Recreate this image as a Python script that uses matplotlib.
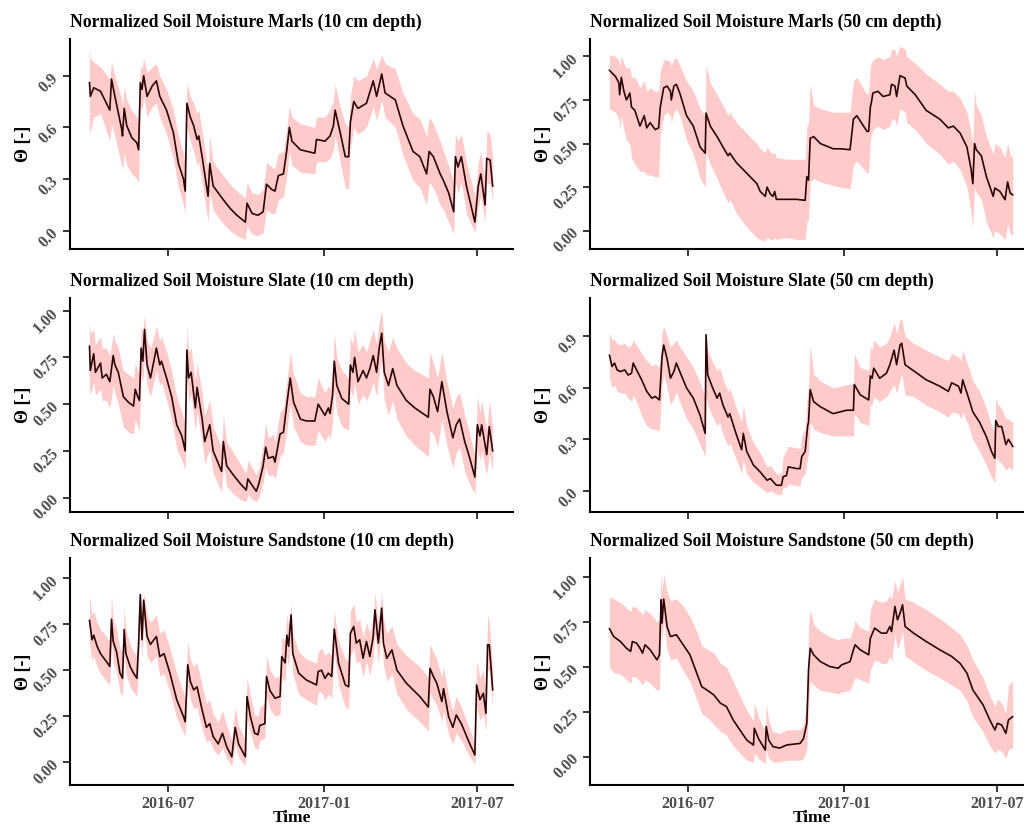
import numpy as np
import pandas as pd
import matplotlib
matplotlib.use("Agg")
import matplotlib.pyplot as plt
import matplotlib.dates as mdates
from datetime import datetime

plt.rcParams["font.family"] = ["Liberation Serif", "DejaVu Serif"]
plt.rcParams["font.weight"] = "bold"
plt.rcParams["axes.labelweight"] = "bold"
plt.rcParams["axes.titleweight"] = "bold"

# record starts 2016-03-30, values are daily means over the sensors with min/max band
START = pd.Timestamp("2016-03-30")

marls10_day = [0, 1, 5, 13, 24, 26, 30, 38, 39, 41, 44, 50, 56, 58, 60, 62, 64, 68, 74, 79,
               83, 91, 99, 105, 111, 113, 115, 119, 123, 127, 129, 133, 136, 140, 142, 146, 152, 158, 166, 174,
               184, 186, 192, 199, 205, 209, 215, 219, 223, 229, 233, 236, 239, 249, 266, 268, 278, 284, 288, 290,
               296, 302, 306, 308, 312, 317, 327, 335, 339, 345, 349, 361, 370, 382, 390, 398, 401, 406, 414, 418,
               424, 430, 432, 435, 439, 445, 455, 459, 462, 467, 469, 473, 476]
marls10_theta = [0.86, 0.78, 0.83, 0.81, 0.70, 0.88, 0.78, 0.59, 0.55, 0.71,
                 0.61, 0.54, 0.51, 0.47, 0.86, 0.82, 0.90, 0.78, 0.84, 0.87,
                 0.78, 0.70, 0.57, 0.39, 0.30, 0.23, 0.74, 0.66, 0.61, 0.53,
                 0.55, 0.43, 0.33, 0.20, 0.39, 0.26, 0.22, 0.18, 0.13, 0.09,
                 0.05, 0.16, 0.10, 0.09, 0.11, 0.27, 0.24, 0.23, 0.32, 0.33,
                 0.47, 0.60, 0.52, 0.47, 0.45, 0.53, 0.52, 0.55, 0.61, 0.70,
                 0.57, 0.43, 0.43, 0.63, 0.75, 0.71, 0.74, 0.87, 0.78, 0.91,
                 0.80, 0.76, 0.61, 0.46, 0.43, 0.33, 0.46, 0.43, 0.33, 0.29,
                 0.22, 0.11, 0.43, 0.37, 0.43, 0.26, 0.05, 0.26, 0.33, 0.15,
                 0.42, 0.41, 0.26]
marls10_lo = [0.57, 0.58, 0.66, 0.68, 0.52, 0.62, 0.55, 0.38, 0.35, 0.45,
              0.38, 0.33, 0.30, 0.28, 0.72, 0.70, 0.78, 0.66, 0.72, 0.74,
              0.66, 0.56, 0.42, 0.25, 0.15, 0.10, 0.60, 0.52, 0.46, 0.38,
              0.40, 0.28, 0.18, 0.05, 0.22, 0.12, 0.08, 0.04, 0.00, -0.03,
              -0.05, 0.03, -0.02, -0.03, -0.01, 0.12, 0.10, 0.10, 0.18, 0.20,
              0.32, 0.46, 0.38, 0.34, 0.33, 0.40, 0.40, 0.42, 0.47, 0.55,
              0.40, 0.25, 0.24, 0.48, 0.60, 0.56, 0.60, 0.72, 0.64, 0.76,
              0.66, 0.60, 0.44, 0.29, 0.25, 0.15, 0.28, 0.25, 0.15, 0.12,
              0.05, -0.02, 0.28, 0.22, 0.28, 0.10, -0.01, 0.14, 0.20, 0.05,
              0.28, 0.27, 0.17]
marls10_hi = [1.06, 1.00, 0.98, 0.95, 0.88, 0.98, 0.90, 0.76, 0.72, 0.84,
              0.76, 0.70, 0.66, 0.62, 0.96, 0.94, 1.00, 0.92, 0.95, 0.97,
              0.90, 0.82, 0.70, 0.55, 0.45, 0.38, 0.86, 0.78, 0.74, 0.68,
              0.70, 0.58, 0.48, 0.35, 0.55, 0.40, 0.36, 0.32, 0.27, 0.23,
              0.19, 0.28, 0.22, 0.21, 0.24, 0.40, 0.37, 0.36, 0.45, 0.46,
              0.60, 0.72, 0.66, 0.62, 0.60, 0.66, 0.66, 0.70, 0.76, 0.85,
              0.72, 0.62, 0.60, 0.78, 0.90, 0.87, 0.90, 1.00, 0.94, 1.02,
              0.97, 0.94, 0.80, 0.68, 0.65, 0.55, 0.66, 0.62, 0.52, 0.46,
              0.38, 0.28, 0.56, 0.52, 0.56, 0.40, 0.20, 0.40, 0.46, 0.28,
              0.58, 0.56, 0.42]

slate10_day = [0, 1, 5, 7, 13, 15, 20, 24, 28, 30, 34, 40, 46, 52, 54, 57, 59, 61, 63, 65,
               68, 72, 76, 79, 83, 85, 91, 97, 103, 109, 113, 115, 117, 120, 125, 127, 133, 136, 142, 146,
               156, 158, 162, 170, 178, 185, 187, 192, 197, 200, 205, 208, 211, 217, 219, 225, 229, 233, 237, 241,
               249, 256, 266, 270, 274, 278, 282, 284, 287, 289, 292, 298, 306, 308, 311, 313, 317, 323, 327, 331,
               335, 339, 342, 345, 348, 353, 358, 363, 374, 384, 400, 402, 406, 411, 416, 422, 429, 433, 437, 443,
               449, 455, 458, 461, 463, 469, 472, 476]
slate10_theta = [0.81, 0.68, 0.77, 0.67, 0.72, 0.64, 0.66, 0.62, 0.76, 0.71,
                 0.67, 0.54, 0.51, 0.49, 0.58, 0.54, 0.52, 0.80, 0.73, 0.90,
                 0.71, 0.64, 0.73, 0.80, 0.71, 0.73, 0.64, 0.54, 0.39, 0.33,
                 0.25, 0.79, 0.64, 0.67, 0.48, 0.59, 0.42, 0.30, 0.39, 0.25,
                 0.14, 0.30, 0.17, 0.12, 0.075, 0.04, 0.10, 0.066, 0.034, 0.075,
                 0.17, 0.27, 0.21, 0.22, 0.19, 0.34, 0.35, 0.50, 0.64, 0.51,
                 0.42, 0.41, 0.41, 0.50, 0.47, 0.44, 0.48, 0.45, 0.55, 0.73,
                 0.60, 0.53, 0.50, 0.71, 0.67, 0.75, 0.62, 0.68, 0.64, 0.69,
                 0.76, 0.67, 0.80, 0.88, 0.67, 0.60, 0.69, 0.60, 0.52, 0.48,
                 0.43, 0.58, 0.54, 0.46, 0.62, 0.46, 0.32, 0.39, 0.42, 0.30,
                 0.21, 0.11, 0.39, 0.33, 0.39, 0.23, 0.38, 0.25]
slate10_lo = [0.58, 0.55, 0.62, 0.55, 0.58, 0.52, 0.52, 0.48, 0.60, 0.56,
              0.50, 0.38, 0.35, 0.34, 0.42, 0.38, 0.36, 0.66, 0.62, 0.75,
              0.60, 0.54, 0.62, 0.68, 0.60, 0.62, 0.52, 0.42, 0.26, 0.20,
              0.15, 0.66, 0.52, 0.55, 0.36, 0.46, 0.30, 0.18, 0.26, 0.13,
              0.03, 0.18, 0.06, 0.02, -0.01, -0.02, 0.02, -0.01, -0.02, 0.00,
              0.08, 0.16, 0.12, 0.12, 0.10, 0.22, 0.24, 0.36, 0.50, 0.38,
              0.30, 0.28, 0.28, 0.36, 0.33, 0.30, 0.34, 0.31, 0.40, 0.58,
              0.45, 0.38, 0.36, 0.58, 0.54, 0.62, 0.50, 0.55, 0.52, 0.56,
              0.62, 0.54, 0.66, 0.74, 0.52, 0.44, 0.52, 0.42, 0.33, 0.28,
              0.22, 0.36, 0.34, 0.27, 0.42, 0.28, 0.16, 0.24, 0.27, 0.14,
              0.07, 0.02, 0.26, 0.20, 0.25, 0.12, 0.24, 0.14]
slate10_hi = [0.95, 0.88, 0.90, 0.82, 0.86, 0.80, 0.80, 0.76, 0.88, 0.84,
              0.80, 0.68, 0.66, 0.64, 0.72, 0.68, 0.66, 0.92, 0.88, 0.98,
              0.84, 0.80, 0.86, 0.92, 0.84, 0.86, 0.78, 0.68, 0.54, 0.46,
              0.38, 0.92, 0.78, 0.80, 0.62, 0.72, 0.56, 0.44, 0.52, 0.38,
              0.27, 0.44, 0.30, 0.24, 0.18, 0.13, 0.20, 0.16, 0.12, 0.16,
              0.28, 0.40, 0.32, 0.34, 0.30, 0.46, 0.48, 0.62, 0.78, 0.66,
              0.56, 0.54, 0.54, 0.64, 0.60, 0.56, 0.60, 0.58, 0.68, 0.88,
              0.75, 0.68, 0.64, 0.86, 0.82, 0.90, 0.78, 0.82, 0.78, 0.84,
              0.90, 0.82, 0.94, 1.00, 0.84, 0.78, 0.86, 0.80, 0.72, 0.68,
              0.64, 0.78, 0.72, 0.64, 0.78, 0.62, 0.48, 0.54, 0.56, 0.44,
              0.34, 0.22, 0.54, 0.46, 0.52, 0.36, 0.52, 0.38]

marls50_day = [0, 7, 11, 12, 14, 17, 20, 24, 26, 30, 36, 41, 44, 48, 54, 58, 60, 64, 68, 72,
               73, 76, 79, 83, 91, 99, 107, 113, 114, 119, 127, 134, 140, 142, 150, 162, 174, 178, 184, 186,
               190, 193, 195, 197, 209, 221, 231, 233, 235, 237, 241, 249, 264, 272, 284, 288, 292, 304, 306, 308,
               309, 311, 317, 323, 331, 333, 337, 339, 343, 349, 351, 361, 374, 390, 400, 406, 414, 422, 427, 429,
               431, 433, 439, 445, 453, 455, 461, 467, 470, 473, 476]
marls50_theta = [0.92, 0.885, 0.85, 0.78, 0.88, 0.80, 0.75, 0.79, 0.71, 0.69,
                 0.60, 0.66, 0.59, 0.62, 0.58, 0.59, 0.71, 0.82, 0.83, 0.80,
                 0.75, 0.83, 0.84, 0.79, 0.66, 0.60, 0.48, 0.445, 0.675, 0.60,
                 0.54, 0.48, 0.43, 0.445, 0.39, 0.33, 0.27, 0.225, 0.197, 0.25,
                 0.21, 0.197, 0.225, 0.18, 0.18, 0.18, 0.174, 0.31, 0.29, 0.53,
                 0.54, 0.50, 0.47, 0.47, 0.465, 0.64, 0.66, 0.57, 0.57, 0.71,
                 0.73, 0.79, 0.80, 0.77, 0.78, 0.84, 0.83, 0.77, 0.89, 0.876,
                 0.83, 0.78, 0.69, 0.64, 0.59, 0.60, 0.56, 0.48, 0.35, 0.27,
                 0.50, 0.465, 0.43, 0.31, 0.197, 0.245, 0.225, 0.178, 0.28, 0.216,
                 0.206]
marls50_lo = [0.70, 0.68, 0.64, 0.58, 0.66, 0.58, 0.52, 0.50, 0.42, 0.38,
              0.34, 0.34, 0.32, 0.32, 0.31, 0.31, 0.55, 0.66, 0.68, 0.66,
              0.62, 0.68, 0.70, 0.66, 0.52, 0.44, 0.30, 0.25, 0.45, 0.38,
              0.30, 0.22, 0.16, 0.18, 0.10, 0.02, -0.04, -0.05, -0.06, -0.04,
              -0.05, -0.05, -0.04, -0.05, -0.04, -0.05, -0.05, 0.05, 0.06, 0.28,
              0.30, 0.28, 0.26, 0.25, 0.24, 0.38, 0.40, 0.33, 0.34, 0.52,
              0.54, 0.58, 0.60, 0.58, 0.60, 0.64, 0.64, 0.60, 0.70, 0.68,
              0.62, 0.58, 0.50, 0.44, 0.38, 0.40, 0.35, 0.25, 0.10, 0.02,
              0.25, 0.22, 0.18, 0.05, -0.04, 0.00, -0.02, -0.05, 0.04, -0.02,
              -0.02]
marls50_hi = [1.01, 1.00, 0.98, 0.94, 1.00, 0.96, 0.93, 0.94, 0.88, 0.88,
              0.82, 0.86, 0.80, 0.82, 0.80, 0.80, 0.92, 0.98, 0.98, 0.97,
              0.94, 0.99, 0.99, 0.95, 0.86, 0.80, 0.70, 0.66, 0.95, 0.85,
              0.78, 0.72, 0.66, 0.68, 0.62, 0.56, 0.50, 0.47, 0.45, 0.48,
              0.45, 0.44, 0.45, 0.42, 0.41, 0.41, 0.41, 0.60, 0.62, 0.84,
              0.72, 0.70, 0.68, 0.68, 0.68, 0.86, 0.88, 0.78, 0.80, 0.94,
              0.96, 0.98, 1.00, 0.98, 1.00, 1.04, 1.04, 1.00, 1.06, 1.04,
              1.00, 0.96, 0.90, 0.84, 0.80, 0.80, 0.76, 0.68, 0.56, 0.50,
              0.80, 0.72, 0.66, 0.54, 0.44, 0.50, 0.48, 0.42, 0.50, 0.44,
              0.42]

slate50_day = [0, 3, 6, 9, 13, 18, 22, 26, 28, 32, 38, 44, 50, 54, 59, 62, 64, 68, 72, 76,
               79, 83, 91, 99, 107, 113, 114, 116, 121, 127, 130, 134, 140, 142, 150, 156, 158, 162, 170, 178,
               186, 190, 197, 203, 205, 209, 211, 221, 225, 227, 231, 234, 235, 237, 241, 249, 264, 272, 280, 288,
               289, 296, 306, 308, 310, 312, 319, 327, 331, 336, 339, 343, 345, 349, 359, 374, 390, 400, 404, 412,
               415, 417, 424, 429, 437, 445, 451, 455, 456, 459, 463, 468, 471, 476]
slate50_theta = [0.79, 0.725, 0.745, 0.705, 0.695, 0.705, 0.675, 0.685, 0.745, 0.705,
                 0.647, 0.58, 0.54, 0.55, 0.53, 0.78, 0.85, 0.77, 0.657, 0.695,
                 0.745, 0.695, 0.60, 0.54, 0.44, 0.335, 0.91, 0.676, 0.61, 0.54,
                 0.57, 0.50, 0.43, 0.45, 0.325, 0.24, 0.335, 0.23, 0.15, 0.11,
                 0.062, 0.072, 0.033, 0.033, 0.082, 0.09, 0.14, 0.13, 0.13, 0.20,
                 0.23, 0.38, 0.40, 0.59, 0.52, 0.49, 0.45, 0.46, 0.47, 0.47,
                 0.62, 0.56, 0.53, 0.67, 0.656, 0.715, 0.656, 0.686, 0.735, 0.82,
                 0.735, 0.85, 0.86, 0.735, 0.70, 0.647, 0.61, 0.58, 0.63, 0.61,
                 0.57, 0.647, 0.54, 0.46, 0.40, 0.315, 0.23, 0.19, 0.41, 0.375,
                 0.375, 0.27, 0.30, 0.26]
slate50_lo = [0.66, 0.60, 0.62, 0.58, 0.57, 0.57, 0.54, 0.52, 0.56, 0.52,
              0.44, 0.38, 0.36, 0.36, 0.35, 0.62, 0.68, 0.60, 0.50, 0.54,
              0.58, 0.52, 0.42, 0.36, 0.27, 0.20, 0.56, 0.50, 0.44, 0.38,
              0.40, 0.33, 0.26, 0.28, 0.18, 0.10, 0.18, 0.10, 0.05, 0.02,
              -0.01, 0.00, -0.02, -0.02, 0.02, 0.02, 0.04, 0.03, 0.03, 0.08,
              0.10, 0.20, 0.22, 0.40, 0.36, 0.34, 0.32, 0.32, 0.32, 0.32,
              0.45, 0.40, 0.38, 0.50, 0.50, 0.55, 0.52, 0.55, 0.58, 0.62,
              0.57, 0.65, 0.68, 0.56, 0.55, 0.50, 0.46, 0.43, 0.46, 0.45,
              0.42, 0.46, 0.38, 0.30, 0.23, 0.15, 0.08, 0.05, 0.20, 0.18,
              0.16, 0.12, 0.14, 0.12]
slate50_hi = [0.92, 0.88, 0.88, 0.86, 0.85, 0.86, 0.84, 0.85, 0.88, 0.85,
              0.80, 0.76, 0.73, 0.74, 0.72, 0.92, 0.96, 0.90, 0.84, 0.86,
              0.88, 0.84, 0.78, 0.72, 0.63, 0.55, 0.92, 0.82, 0.76, 0.70,
              0.72, 0.65, 0.58, 0.60, 0.48, 0.40, 0.50, 0.38, 0.28, 0.22,
              0.14, 0.15, 0.10, 0.10, 0.20, 0.24, 0.26, 0.25, 0.25, 0.32,
              0.36, 0.58, 0.62, 0.85, 0.68, 0.64, 0.60, 0.61, 0.62, 0.62,
              0.80, 0.72, 0.70, 0.84, 0.82, 0.88, 0.84, 0.86, 0.90, 0.98,
              0.92, 1.00, 1.00, 0.90, 0.86, 0.82, 0.78, 0.76, 0.80, 0.78,
              0.76, 0.82, 0.72, 0.64, 0.58, 0.48, 0.38, 0.34, 0.54, 0.50,
              0.48, 0.42, 0.42, 0.40]

sand10_day = [0, 3, 5, 9, 13, 17, 20, 24, 26, 28, 32, 36, 39, 41, 43, 48, 52, 56, 58, 60,
              62, 64, 68, 72, 76, 79, 83, 88, 95, 103, 111, 113, 116, 119, 123, 127, 133, 138, 142, 146,
              152, 157, 162, 168, 172, 176, 184, 186, 190, 195, 199, 201, 207, 209, 213, 219, 225, 227, 231, 233,
              235, 238, 240, 247, 256, 268, 270, 274, 278, 282, 286, 289, 294, 302, 306, 308, 312, 315, 319, 323,
              327, 331, 335, 337, 341, 345, 347, 351, 357, 363, 374, 390, 400, 402, 406, 410, 416, 418, 424, 429,
              433, 439, 449, 455, 457, 461, 465, 468, 470, 472, 474, 476]
sand10_theta = [0.77, 0.665, 0.69, 0.63, 0.59, 0.565, 0.547, 0.52, 0.777, 0.656,
                0.60, 0.484, 0.456, 0.72, 0.59, 0.52, 0.484, 0.456, 0.647, 0.91,
                0.665, 0.88, 0.683, 0.64, 0.665, 0.683, 0.574, 0.59, 0.484, 0.34,
                0.248, 0.22, 0.53, 0.44, 0.393, 0.41, 0.284, 0.19, 0.21, 0.14,
                0.10, 0.158, 0.085, 0.03, 0.19, 0.10, 0.03, 0.357, 0.248, 0.158,
                0.15, 0.20, 0.21, 0.466, 0.39, 0.348, 0.357, 0.574, 0.54, 0.69,
                0.63, 0.80, 0.59, 0.484, 0.447, 0.42, 0.493, 0.50, 0.456, 0.484,
                0.466, 0.723, 0.54, 0.42, 0.41, 0.70, 0.737, 0.647, 0.665, 0.565,
                0.656, 0.574, 0.683, 0.828, 0.647, 0.837, 0.647, 0.565, 0.61, 0.50,
                0.43, 0.357, 0.30, 0.51, 0.466, 0.43, 0.33, 0.40, 0.248, 0.19,
                0.257, 0.21, 0.10, 0.04, 0.42, 0.34, 0.375, 0.266, 0.638, 0.638,
                0.52, 0.393]
sand10_lo = [0.64, 0.55, 0.58, 0.52, 0.48, 0.46, 0.44, 0.42, 0.66, 0.54,
             0.49, 0.38, 0.36, 0.60, 0.48, 0.41, 0.38, 0.36, 0.54, 0.80,
             0.56, 0.76, 0.58, 0.54, 0.56, 0.58, 0.47, 0.48, 0.38, 0.24,
             0.16, 0.14, 0.42, 0.34, 0.29, 0.30, 0.18, 0.11, 0.12, 0.07,
             0.04, 0.08, 0.02, -0.02, 0.10, 0.03, -0.02, 0.24, 0.16, 0.08,
             0.07, 0.12, 0.13, 0.36, 0.29, 0.25, 0.26, 0.46, 0.44, 0.58,
             0.52, 0.68, 0.48, 0.37, 0.34, 0.31, 0.38, 0.38, 0.34, 0.37,
             0.35, 0.60, 0.42, 0.30, 0.29, 0.58, 0.62, 0.54, 0.55, 0.46,
             0.55, 0.47, 0.57, 0.70, 0.54, 0.72, 0.53, 0.44, 0.48, 0.37,
             0.29, 0.22, 0.17, 0.38, 0.34, 0.31, 0.22, 0.28, 0.15, 0.10,
             0.16, 0.12, 0.03, -0.01, 0.30, 0.23, 0.26, 0.17, 0.50, 0.50,
             0.40, 0.30]
sand10_hi = [0.90, 0.80, 0.82, 0.76, 0.72, 0.70, 0.68, 0.66, 0.90, 0.78,
             0.72, 0.62, 0.60, 0.84, 0.72, 0.64, 0.60, 0.58, 0.78, 0.94,
             0.80, 0.92, 0.80, 0.76, 0.78, 0.80, 0.70, 0.72, 0.62, 0.48,
             0.38, 0.34, 0.66, 0.56, 0.52, 0.54, 0.42, 0.32, 0.34, 0.26,
             0.22, 0.28, 0.20, 0.12, 0.30, 0.20, 0.12, 0.46, 0.36, 0.26,
             0.25, 0.30, 0.32, 0.58, 0.50, 0.46, 0.47, 0.68, 0.66, 0.80,
             0.74, 0.86, 0.70, 0.60, 0.56, 0.54, 0.60, 0.62, 0.58, 0.60,
             0.58, 0.82, 0.66, 0.56, 0.55, 0.82, 0.86, 0.76, 0.78, 0.68,
             0.76, 0.70, 0.80, 0.92, 0.76, 0.92, 0.78, 0.70, 0.74, 0.64,
             0.58, 0.52, 0.46, 0.64, 0.60, 0.56, 0.46, 0.52, 0.36, 0.28,
             0.36, 0.30, 0.18, 0.10, 0.55, 0.46, 0.50, 0.38, 0.80, 0.76,
             0.64, 0.50]

sand50_day = [0, 5, 13, 20, 25, 27, 32, 36, 39, 42, 48, 56, 59, 61, 62, 64, 68, 72, 79, 87,
              95, 103, 109, 115, 123, 131, 138, 146, 154, 162, 170, 171, 176, 184, 185, 188, 193, 201, 209, 225,
              229, 233, 235, 237, 241, 249, 260, 270, 274, 284, 288, 290, 296, 306, 308, 313, 321, 327, 331, 333,
              337, 340, 343, 346, 349, 359, 374, 390, 404, 414, 422, 429, 441, 449, 455, 458, 463, 468, 471, 476]
sand50_theta = [0.713, 0.67, 0.642, 0.605, 0.587, 0.642, 0.633, 0.605, 0.577, 0.624,
                0.596, 0.54, 0.568, 0.875, 0.745, 0.879, 0.726, 0.67, 0.68, 0.624,
                0.568, 0.466, 0.39, 0.372, 0.345, 0.298, 0.28, 0.205, 0.149, 0.093,
                0.065, 0.158, 0.10, 0.037, 0.168, 0.093, 0.056, 0.048, 0.065, 0.074,
                0.10, 0.186, 0.484, 0.605, 0.568, 0.53, 0.503, 0.493, 0.512, 0.53,
                0.596, 0.624, 0.596, 0.568, 0.66, 0.717, 0.689, 0.689, 0.726, 0.698,
                0.838, 0.763, 0.80, 0.847, 0.726, 0.689, 0.642, 0.596, 0.559, 0.52,
                0.466, 0.372, 0.289, 0.205, 0.149, 0.186, 0.177, 0.13, 0.205, 0.223]
sand50_lo = [0.50, 0.47, 0.46, 0.43, 0.41, 0.45, 0.44, 0.42, 0.40, 0.43,
             0.41, 0.37, 0.38, 0.76, 0.62, 0.76, 0.60, 0.54, 0.55, 0.48,
             0.42, 0.32, 0.24, 0.22, 0.18, 0.14, 0.12, 0.06, 0.02, -0.02,
             -0.03, 0.02, -0.01, -0.04, 0.04, -0.01, -0.03, -0.03, -0.02, -0.02,
             -0.01, 0.04, 0.30, 0.42, 0.40, 0.37, 0.36, 0.35, 0.36, 0.37,
             0.42, 0.44, 0.43, 0.41, 0.48, 0.54, 0.52, 0.52, 0.56, 0.53,
             0.68, 0.60, 0.64, 0.70, 0.56, 0.53, 0.48, 0.44, 0.40, 0.37,
             0.31, 0.22, 0.14, 0.06, 0.02, 0.04, 0.03, -0.01, 0.04, 0.05]
sand50_hi = [0.89, 0.88, 0.86, 0.83, 0.81, 0.84, 0.83, 0.81, 0.79, 0.82,
             0.80, 0.75, 0.76, 1.03, 0.92, 1.02, 0.92, 0.87, 0.88, 0.84,
             0.78, 0.70, 0.62, 0.60, 0.58, 0.52, 0.50, 0.42, 0.34, 0.26,
             0.20, 0.30, 0.22, 0.14, 0.30, 0.20, 0.14, 0.13, 0.15, 0.15,
             0.18, 0.32, 0.72, 0.82, 0.74, 0.70, 0.67, 0.65, 0.66, 0.66,
             0.72, 0.76, 0.72, 0.70, 0.82, 0.88, 0.86, 0.87, 0.90, 0.88,
             0.98, 0.92, 0.96, 1.00, 0.88, 0.86, 0.82, 0.77, 0.72, 0.68,
             0.62, 0.54, 0.44, 0.34, 0.28, 0.32, 0.30, 0.24, 0.40, 0.42]

tick_dates = [datetime(2016, 7, 1), datetime(2017, 1, 1), datetime(2017, 7, 1)]
ticks_03 = [0.0, 0.3, 0.6, 0.9]
ticks_025 = [0.0, 0.25, 0.5, 0.75, 1.0]

# (title, data, ylim, yticks, tick format)
panels = [
    ("Normalized Soil Moisture Marls (10 cm depth)",
     (marls10_day, marls10_theta, marls10_lo, marls10_hi), (-0.106, 1.113), ticks_03, "%.1f"),
    ("Normalized Soil Moisture Marls (50 cm depth)",
     (marls50_day, marls50_theta, marls50_lo, marls50_hi), (-0.105, 1.10), ticks_025, "%.2f"),
    ("Normalized Soil Moisture Slate (10 cm depth)",
     (slate10_day, slate10_theta, slate10_lo, slate10_hi), (-0.077, 1.068), ticks_025, "%.2f"),
    ("Normalized Soil Moisture Slate (50 cm depth)",
     (slate50_day, slate50_theta, slate50_lo, slate50_hi), (-0.123, 1.124), ticks_03, "%.1f"),
    ("Normalized Soil Moisture Sandstone (10 cm depth)",
     (sand10_day, sand10_theta, sand10_lo, sand10_hi), (-0.123, 1.109), ticks_025, "%.2f"),
    ("Normalized Soil Moisture Sandstone (50 cm depth)",
     (sand50_day, sand50_theta, sand50_lo, sand50_hi), (-0.158, 1.108), ticks_025, "%.2f"),
]

W, H = 1024, 826
fig = plt.figure(figsize=(W / 100, H / 100), dpi=100)

col_left = [70, 590]
rows = [(39, 249), (298, 512), (558, 785)]
panel_w = 443

xmin = (START + pd.Timedelta(days=-23)).to_pydatetime()
xmax = (START + pd.Timedelta(days=500)).to_pydatetime()

for i, (title, (day, theta, lo, hi), ylim, yticks, fmt) in enumerate(panels):
    r, c = divmod(i, 2)
    top, bottom = rows[r]
    ax = fig.add_axes([col_left[c] / W, 1 - bottom / H, panel_w / W, (bottom - top) / H])

    t = (START + pd.to_timedelta(day, unit="D")).to_numpy()
    ax.fill_between(t, lo, hi, color="#ffcaca", lw=0)
    ax.plot(t, theta, color="#2a0606", lw=1.2)

    ax.set_xlim(xmin, xmax)
    ax.set_ylim(*ylim)
    ax.set_xticks(tick_dates)
    ax.xaxis.set_major_formatter(mdates.DateFormatter("%Y-%m"))
    ax.set_yticks(yticks)
    ax.set_yticklabels([fmt % v for v in yticks])

    for s in ["top", "right"]:
        ax.spines[s].set_visible(False)
    for s in ["left", "bottom"]:
        ax.spines[s].set_linewidth(1.5)
        ax.spines[s].set_color("black")

    ax.tick_params(direction="out", length=5, width=1.1, color="black",
                   labelcolor="#4d4d4d", labelsize=11.5)
    ax.tick_params(axis="x", pad=3)
    ax.tick_params(axis="y", pad=5)
    for lbl in ax.get_yticklabels():
        lbl.set_rotation(45)
        lbl.set_rotation_mode("anchor")
        lbl.set_ha("right")
        lbl.set_va("center")

    if r < 2:
        ax.tick_params(axis="x", labelbottom=False)
    else:
        ax.set_xlabel("Time", fontsize=12.5, fontweight="bold", labelpad=-1.5)

    ax.set_title(title, loc="left", fontsize=12.7, fontweight="bold", pad=9)
    ax.set_ylabel("\u0398 [-]", fontsize=13, fontweight="bold")
    ax.yaxis.set_label_coords(-0.085, 0.5)

fig.savefig("out.png", dpi=100)
